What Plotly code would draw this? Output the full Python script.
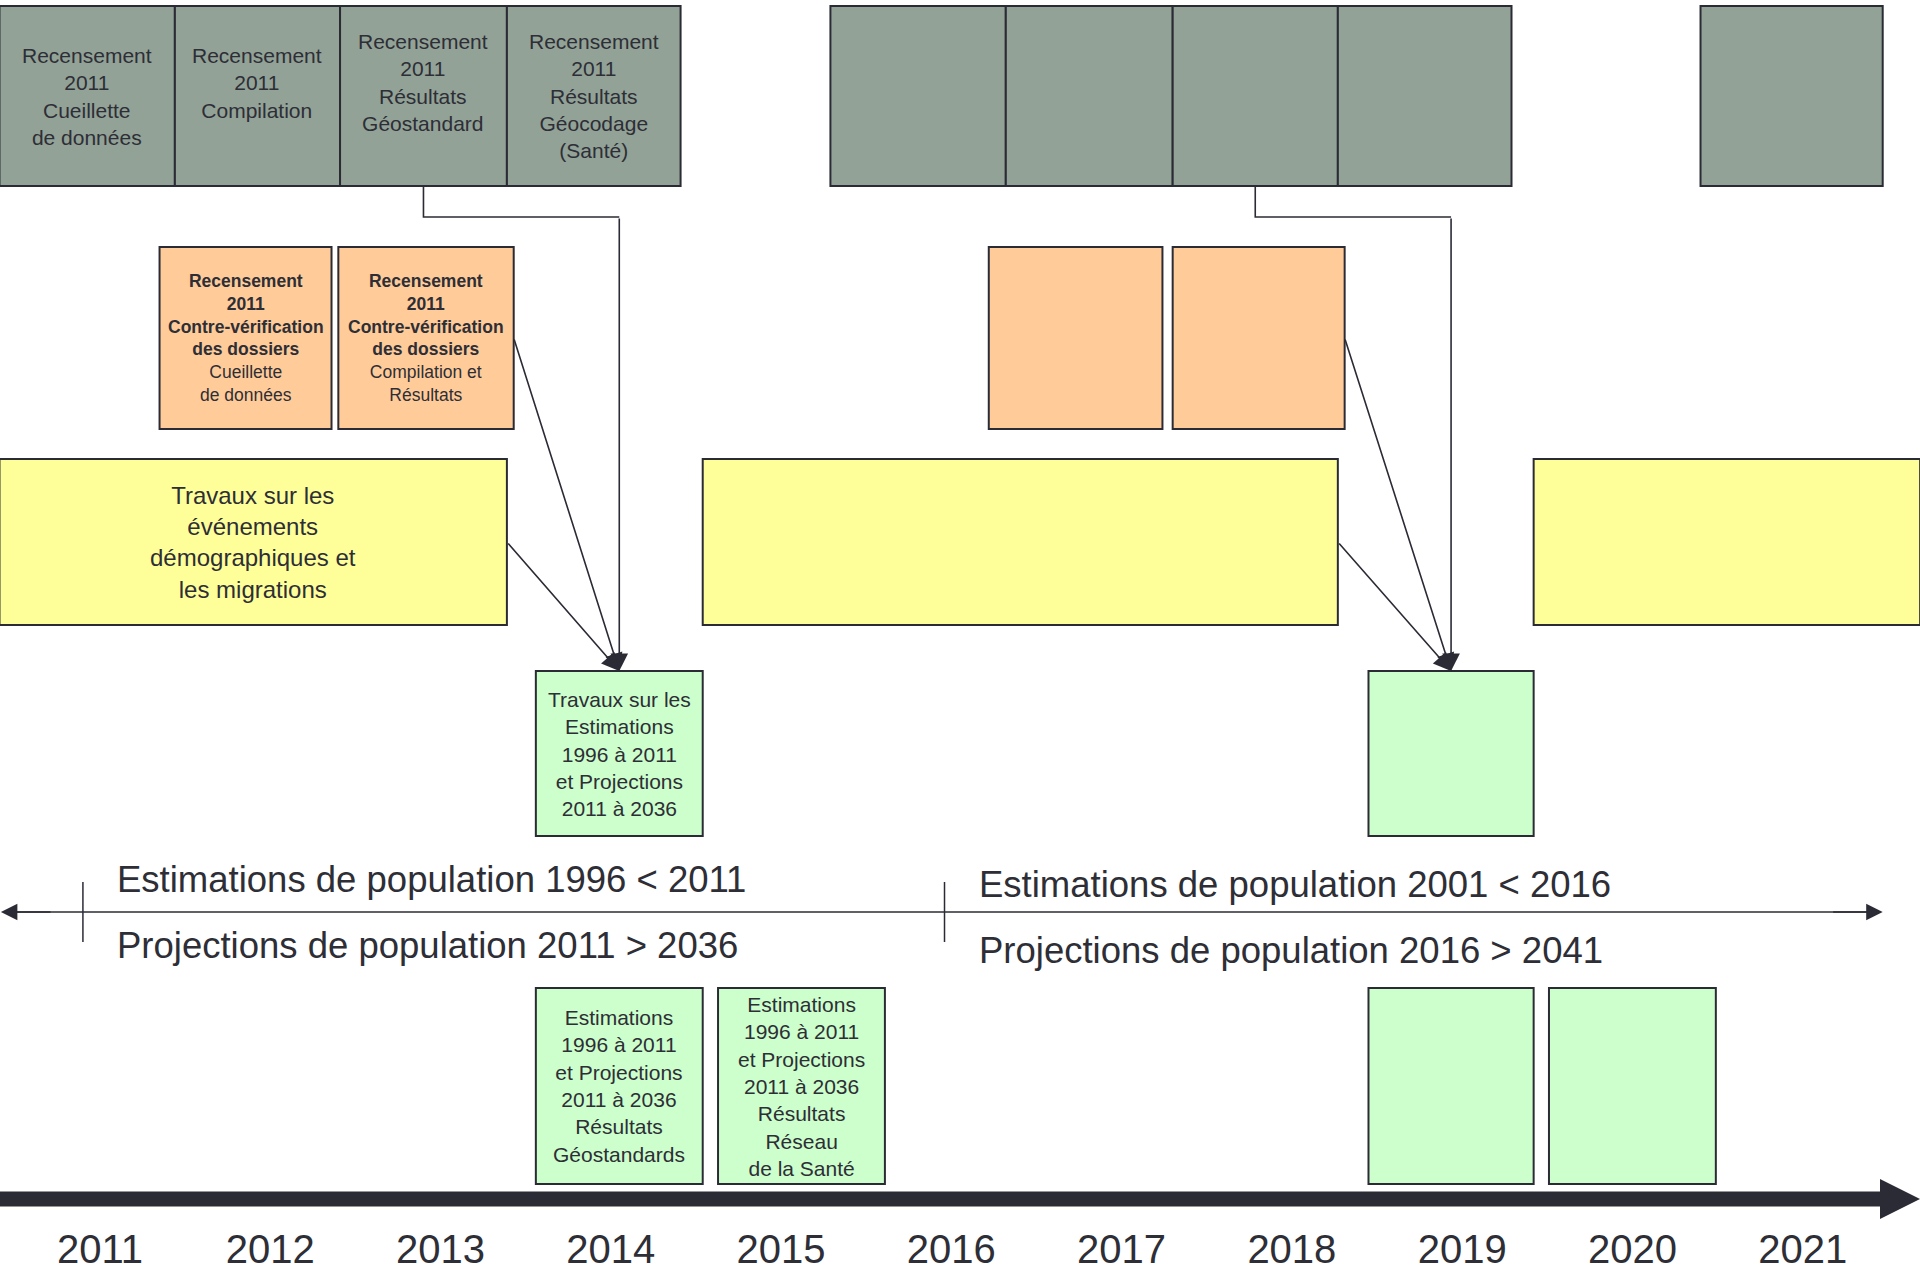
import plotly.graph_objects as go

# ---------------- data (x in years) ----------------
YEARS = list(range(2011, 2022))
YEAR_LABELS = [str(y) for y in YEARS]

CENSUS_START = [2010.41, 2011.44, 2012.41, 2013.39, 2015.29, 2016.32, 2017.30, 2018.27, 2020.40]
CENSUS_END = [2011.44, 2012.41, 2013.39, 2014.41, 2016.32, 2017.30, 2018.27, 2019.29, 2021.47]
CENSUS_LABELS = [
    "Recensement<br>2011<br>Cueillette<br>de données",
    "Recensement<br>2011<br>Compilation<br>&nbsp;",
    "Recensement<br>2011<br>Résultats<br>Géostandard<br>&nbsp;",
    "Recensement<br>2011<br>Résultats<br>Géocodage<br>(Santé)",
    "", "", "", "", "",
]

CHECK_START = [2011.35, 2012.40, 2016.22, 2017.30]
CHECK_END = [2012.36, 2013.43, 2017.24, 2018.31]
CHECK_LABELS = [
    "<b>Recensement<br>2011<br>Contre-vérification<br>des dossiers</b><br>Cueillette<br>de données",
    "<b>Recensement<br>2011<br>Contre-vérification<br>des dossiers</b><br>Compilation et<br>Résultats",
    "", "",
]

EVENTS_START = [2010.41, 2014.54, 2019.42]
EVENTS_END = [2013.39, 2018.27, 2021.69]
EVENTS_LABELS = [
    "Travaux sur les<br>événements<br>démographiques et<br>les migrations",
    "", "",
]

WORK_START = [2013.56, 2018.45]
WORK_END = [2014.54, 2019.42]
WORK_LABELS = [
    "Travaux sur les<br>Estimations<br>1996 à 2011<br>et Projections<br>2011 à 2036",
    "",
]

RESULTS_START = [2013.56, 2014.63, 2018.45, 2019.51]
RESULTS_END = [2014.54, 2015.61, 2019.42, 2020.49]
RESULTS_LABELS = [
    "Estimations<br>1996 à 2011<br>et Projections<br>2011 à 2036<br>Résultats<br>Géostandards",
    "Estimations<br>1996 à 2011<br>et Projections<br>2011 à 2036<br>Résultats<br>Réseau<br>de la Santé",
    "", "",
]

# estimation / projection cycles
CYCLE_MARKS = [2010.90, 2015.96]
CYCLE_EST_LABELS = ["Estimations de population 1996 < 2011", "Estimations de population 2001 < 2016"]
CYCLE_PROJ_LABELS = ["Projections de population 2011 > 2036", "Projections de population 2016 > 2041"]

# links: (source lane, source index, target lane, target index, style)
LINKS = [
    ("census", 2, "work", 0, "elbow"),
    ("check", 1, "work", 0, "direct"),
    ("events", 0, "work", 0, "direct"),
    ("census", 6, "work", 1, "elbow"),
    ("check", 3, "work", 1, "direct"),
    ("events", 1, "work", 1, "direct"),
]

# ---------------- layout / style ----------------
W, H = 1920, 1270
PLOT_H = 1222
X_RANGE = [2010.413, 2021.689]
LANES = {
    "census": (6, 186),
    "check": (247, 429),
    "events": (459, 625),
    "work": (671, 836),
    "results": (988, 1184),
}
ELBOW_Y = 217
TIMELINE_Y = 912
MARK_SPAN = (882, 942)
CYCLE_TEXT_Y = [(879, 945), (884, 950)]
CYCLE_TEXT_DX = 0.19
AXIS_Y = 1199
AXIS_HEAD_START = 2021.454
AXIS_HEAD_HALF = 20

INK = "#2b2b35"
TXT = "#2e2e36"
FONT = "Liberation Sans, Arial, sans-serif"

GROUPS = {
    "census": (CENSUS_START, CENSUS_END, CENSUS_LABELS, "#92a297", 21),
    "check": (CHECK_START, CHECK_END, CHECK_LABELS, "#ffcc99", 17.5),
    "events": (EVENTS_START, EVENTS_END, EVENTS_LABELS, "#ffff99", 24),
    "work": (WORK_START, WORK_END, WORK_LABELS, "#ccffcc", 21),
    "results": (RESULTS_START, RESULTS_END, RESULTS_LABELS, "#ccffcc", 21),
}

fig = go.Figure()
shapes = []
annotations = []

# boxes
for lane, (starts, ends, labels, fill, fsize) in GROUPS.items():
    y0, y1 = LANES[lane]
    for s, e, lab in zip(starts, ends, labels):
        shapes.append(dict(type="rect", xref="x", yref="y", x0=s, x1=e, y0=y0, y1=y1,
                           fillcolor=fill, line=dict(color=INK, width=2), layer="below"))
        if lab:
            annotations.append(dict(x=(s + e) / 2, y=(y0 + y1) / 2, xref="x", yref="y",
                                    text=lab, showarrow=False, align="center",
                                    font=dict(family=FONT, size=fsize, color=TXT)))

# links
for src_lane, si, tgt_lane, ti, style in LINKS:
    ss, se = GROUPS[src_lane][0][si], GROUPS[src_lane][1][si]
    ts, te = GROUPS[tgt_lane][0][ti], GROUPS[tgt_lane][1][ti]
    tx = (ts + te) / 2
    ty = LANES[tgt_lane][0]
    if style == "elbow":
        sx = (ss + se) / 2
        fig.add_trace(go.Scatter(x=[sx, sx, tx], y=[LANES[src_lane][1], ELBOW_Y, ELBOW_Y],
                                 mode="lines", line=dict(color=INK, width=1.6),
                                 hoverinfo="skip", showlegend=False))
        ax, ay = tx, ELBOW_Y
    else:
        ax = se
        ay = sum(LANES[src_lane]) / 2
    annotations.append(dict(x=tx, y=ty, ax=ax, ay=ay, xref="x", yref="y", axref="x", ayref="y",
                            showarrow=True, arrowhead=2, arrowsize=2.2, arrowwidth=1.6,
                            arrowcolor=INK, standoff=0, text=""))

# cycle timeline (double arrow)
left_tip, right_tip = X_RANGE[0] + 0.005, CENSUS_END[-1]
shapes.append(dict(type="line", xref="x", yref="y", x0=left_tip + 0.05, x1=right_tip - 0.05,
                   y0=TIMELINE_Y, y1=TIMELINE_Y, line=dict(color=INK, width=1.5)))
for tip, tail in ((left_tip, left_tip + 0.3), (right_tip, right_tip - 0.3)):
    annotations.append(dict(x=tip, y=TIMELINE_Y, ax=tail, ay=TIMELINE_Y, xref="x", yref="y",
                            axref="x", ayref="y", showarrow=True, arrowhead=2, arrowsize=2.2,
                            arrowwidth=1.5, arrowcolor=INK, standoff=0, text=""))
for m, est, proj, (ey, py) in zip(CYCLE_MARKS, CYCLE_EST_LABELS, CYCLE_PROJ_LABELS, CYCLE_TEXT_Y):
    shapes.append(dict(type="line", xref="x", yref="y", x0=m, x1=m, y0=MARK_SPAN[0], y1=MARK_SPAN[1],
                       line=dict(color=INK, width=1.5)))
    annotations.append(dict(x=m + CYCLE_TEXT_DX, y=ey, xref="x", yref="y", text=est, showarrow=False,
                            xanchor="left", yanchor="middle", font=dict(family=FONT, size=36.5, color=TXT)))
    annotations.append(dict(x=m + CYCLE_TEXT_DX, y=py, xref="x", yref="y", text=proj, showarrow=False,
                            xanchor="left", yanchor="middle", font=dict(family=FONT, size=36.5, color=TXT)))

# thick time axis arrow
shapes.append(dict(type="line", xref="x", yref="y", x0=X_RANGE[0], x1=AXIS_HEAD_START + 0.02,
                   y0=AXIS_Y, y1=AXIS_Y, line=dict(color=INK, width=15)))
shapes.append(dict(type="path", xref="x", yref="y",
                   path=f"M {AXIS_HEAD_START},{AXIS_Y - AXIS_HEAD_HALF} L {X_RANGE[1]},{AXIS_Y} "
                        f"L {AXIS_HEAD_START},{AXIS_Y + AXIS_HEAD_HALF} Z",
                   fillcolor=INK, line=dict(color=INK, width=0)))

fig.update_layout(
    width=W, height=H,
    margin=dict(l=0, r=0, t=0, b=H - PLOT_H, pad=0),
    paper_bgcolor="white", plot_bgcolor="white",
    showlegend=False, hovermode=False,
    shapes=shapes, annotations=annotations,
    xaxis=dict(range=X_RANGE, tickvals=YEARS, ticktext=YEAR_LABELS, showgrid=False,
               zeroline=False, showline=False, ticks="", automargin=False, fixedrange=True,
               tickfont=dict(family=FONT, size=40, color=TXT)),
    yaxis=dict(range=[PLOT_H, 0], visible=False, fixedrange=True),
)

fig.write_html("out.html", config={"displayModeBar": False},
               post_script="document.body.style.margin='0';")
